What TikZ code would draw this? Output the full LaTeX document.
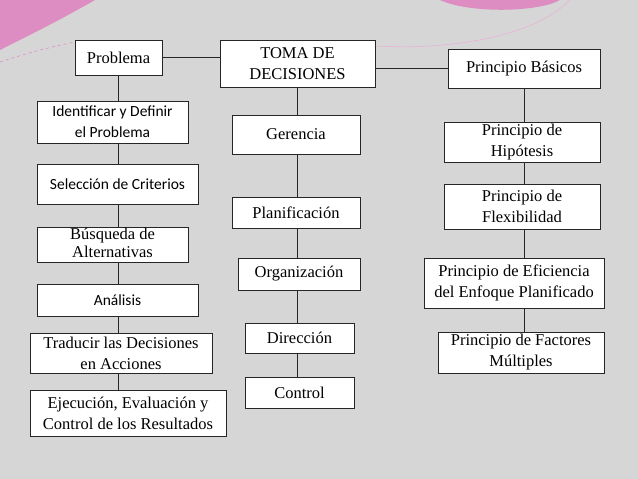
\documentclass[tikz,border=0pt]{standalone}
\usepackage{fontspec}
\setmainfont{Liberation Serif}
\newfontfamily\calfont{Carlito}
\definecolor{bg}{HTML}{D6D6D6}
\definecolor{pk}{HTML}{C8409A}
\begin{document}
\begin{tikzpicture}[x=1pt,y=-1pt,
  bx/.style={draw=black!85,line width=0.9pt,fill=white,align=center,inner sep=0pt,font=\fontsize{16.5}{21}\selectfont},
  ln/.style={draw=black!85,line width=0.8pt}]
\fill[bg] (0,0) rectangle (638,479);
\useasboundingbox (0,0) rectangle (638,479);
\fill[pk!60] (0,50) .. controls (30,35) and (60,20) .. (95,0) -- (0,0) -- cycle;
\draw[pk!60,dashed,line width=0.6pt] (0,62) .. controls (30,52) and (55,46) .. (75,42);
\fill[pk!60] (440,0) .. controls (470,14) and (540,12) .. (560,0) -- cycle;
\draw[pk!40,line width=0.6pt] (375,46) .. controls (440,50) and (530,40) .. (570,0);
\def\B#1#2#3#4#5#6{\node[bx,minimum width=#4-#2,minimum height=#5-#3] (#1) at ({(#2+#4)/2},{(#3+#5)/2}) {#6};}
\B{p}{75}{40}{162}{75}{Problema}
\B{i}{37}{101}{188}{143}{\calfont\fontsize{15.5}{21}\selectfont Identificar y Definir\\\calfont\fontsize{15.5}{21}\selectfont el Problema}
\B{s}{37}{164}{198}{204}{\calfont\fontsize{15.5}{21}\selectfont Selección de Criterios}
\B{b}{37}{227}{188}{262}{\raisebox{4pt}{\shortstack{Búsqueda de\\Alternativas}}}
\B{a}{37}{284}{198}{316}{\calfont\fontsize{15.5}{21}\selectfont Análisis}
\B{t}{30}{333}{212}{373}{Traducir las Decisiones\\en Acciones}
\B{e}{30}{390}{226}{436}{Ejecución, Evaluación y\\Control de los Resultados}
\B{tm}{220}{40}{375}{87}{TOMA DE\\DECISIONES}
\B{g}{232}{115}{360}{154}{Gerencia}
\B{pl}{232}{197}{360}{228}{Planificación}
\B{o}{238}{258}{360}{290}{Organización}
\B{d}{245}{323}{354}{353}{Dirección}
\B{c}{245}{377}{354}{408}{Control}
\B{pb}{448}{49}{600}{88}{Principio Básicos}
\B{h}{444}{122}{600}{162}{Principio de\\Hipótesis}
\B{f}{444}{184}{600}{229}{Principio de\\Flexibilidad}
\B{ef}{424}{258}{604}{308}{Principio de Eficiencia\\del Enfoque Planificado}
\B{fm}{438}{332}{604}{373}{Principio de Factores\\Múltiples}
\draw[ln] (p.south) -- (p.south|-i.north) (p.south|-i.south) -- (p.south|-s.north) (p.south|-s.south) -- (p.south|-b.north) (p.south|-b.south) -- (p.south|-a.north) (p.south|-a.south) -- (p.south|-t.north) (p.south|-t.south) -- (p.south|-e.north);
\draw[ln] (tm.south) -- (tm.south|-g.north) (tm.south|-g.south) -- (tm.south|-pl.north) (tm.south|-pl.south) -- (tm.south|-o.north) (tm.south|-o.south) -- (tm.south|-d.north) (tm.south|-d.south) -- (tm.south|-c.north);
\draw[ln] (pb.south) -- (pb.south|-h.north) (pb.south|-h.south) -- (pb.south|-f.north) (pb.south|-f.south) -- (pb.south|-ef.north) (pb.south|-ef.south) -- (pb.south|-fm.north);
\draw[ln] (p.east) -- (tm.west|-p.east) (tm.east|-pb.west) -- (pb.west);
\end{tikzpicture}
\end{document}
